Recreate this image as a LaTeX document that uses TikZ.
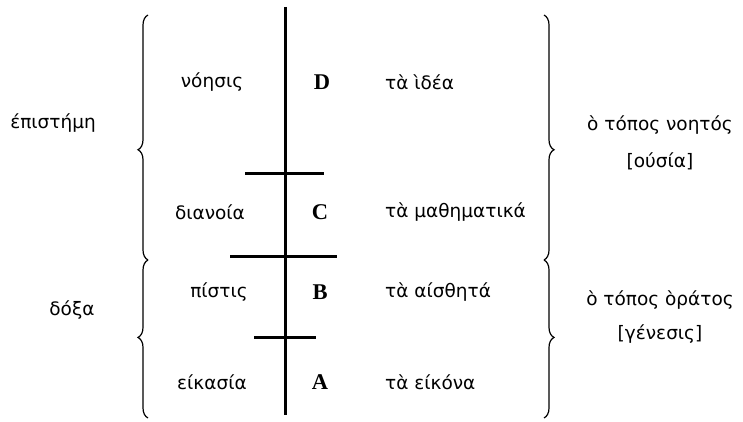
\documentclass[tikz,border=0pt]{standalone}
\usepackage{fontspec}
\newfontfamily\greekfont{DejaVu Sans}
\newfontfamily\letterfont{Liberation Serif}
\usetikzlibrary{decorations.pathreplacing}

\begin{document}
\begin{tikzpicture}[
    x=1pt, y=-1pt,
    word/.style={font=\greekfont\fontsize{18.5}{22}\selectfont, inner sep=0pt},
    letter/.style={font=\letterfont\bfseries\fontsize{22.5}{24}\selectfont, inner sep=0pt},
    bar/.style={line width=3pt},
    curly/.style={decorate, decoration={brace, amplitude=10pt, aspect=#1}, line width=1.2pt}
]
\useasboundingbox (0,0) rectangle (743,422);

% the line and its cuts
\coordinate (top) at (285,7);
\coordinate (bot) at (285,415);
\coordinate (cdL) at (245,173);
\coordinate (cdR) at (324,173);
\coordinate (bcL) at (230,256);
\coordinate (bcR) at (337,256);
\coordinate (abL) at (254,337);
\coordinate (abR) at (316,337);

\draw[bar] (top) -- (bot);
\draw[bar] (cdL) -- (cdR);
\draw[bar] (bcL) -- (bcR);
\draw[bar] (abL) -- (abR);

\node[letter] (D) at (322,82) {D};
\node[letter] (C) at (320,212) {C};
\node[letter] (B) at (320,292) {B};
\node[letter] (A) at (320,382) {A};

\node[word] (noesis) at (212,82) {νόησις};
\node[word] (dianoia) at (210,212) {διανοία};
\node[word] (pistis) at (219,292) {πίστις};
\node[word] (eikasia) at (212,382) {είκασία};

\node[word, anchor=west] (idea) at (385,82) {τὰ ὶδέα};
\node[word, anchor=west] (mathem) at (385,212) {τὰ μαθηματικά};
\node[word, anchor=west] (aistheta) at (385,292) {τὰ αίσθητά};
\node[word, anchor=west] (eikona) at (385,382) {τὰ είκόνα};

% braces
\coordinate (lt) at (148,15);
\coordinate (lm) at (148,260);
\coordinate (lb) at (148,418);
\coordinate (rt) at (544,15);
\coordinate (rm) at (544,260);
\coordinate (rb) at (544,418);

\draw[curly=0.45] (lm) -- (lt);
\draw[curly=0.51] (lb) -- (lm);
\draw[curly=0.55] (rt) -- (rm);
\draw[curly=0.49] (rm) -- (rb);

\node[word] (episteme) at (53,123) {έπιστήμη};
\node[word] (doxa) at (72,310) {δόξα};

\node[word] (noetos) at (660,125) {ὸ τόπος νοητός};
\node[word] (ousia) at (660,161) {[ούσία]};
\node[word] (horatos) at (660,300) {ὸ τόπος ὸράτος};
\node[word] (genesis) at (660,334) {[γένεσις]};

\end{tikzpicture}
\end{document}
